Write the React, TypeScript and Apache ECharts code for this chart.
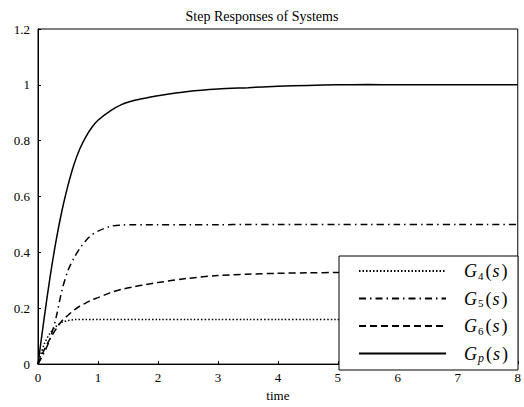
import React, { useEffect, useRef } from "react";
import * as echarts from "echarts";

const time = [0, 0.1, 0.2, 0.3, 0.4, 0.5, 0.6, 0.7, 0.8, 0.9, 1.0, 1.2, 1.4, 1.6, 1.8, 2.0, 2.5, 3, 3.5, 4, 4.5, 5, 5.5, 6, 6.5, 7, 7.5, 8];
const g4 = [0, 0.07, 0.11, 0.135, 0.15, 0.156, 0.159, 0.16, 0.16, 0.16, 0.16, 0.16, 0.16, 0.16, 0.16, 0.16, 0.16, 0.16, 0.16, 0.16, 0.16, 0.16, 0.16, 0.16, 0.16, 0.16, 0.16, 0.16];
const g5 = [0, 0.04, 0.09, 0.165, 0.265, 0.335, 0.38, 0.415, 0.443, 0.463, 0.476, 0.493, 0.498, 0.499, 0.499, 0.499, 0.499, 0.499, 0.5, 0.5, 0.5, 0.5, 0.5, 0.5, 0.5, 0.5, 0.5, 0.5];
const g6 = [0, 0.05, 0.09, 0.125, 0.155, 0.175, 0.193, 0.208, 0.219, 0.23, 0.238, 0.255, 0.268, 0.277, 0.285, 0.292, 0.307, 0.317, 0.322, 0.325, 0.327, 0.328, 0.329, 0.33, 0.33, 0.33, 0.33, 0.33];
const gp = [0, 0.16, 0.31, 0.44, 0.55, 0.64, 0.715, 0.772, 0.815, 0.848, 0.873, 0.906, 0.93, 0.944, 0.953, 0.961, 0.976, 0.985, 0.99, 0.995, 0.998, 1.0, 1.001, 1.0, 1.0, 1.0, 1.0, 1.0];

const names = ["G4(s)", "G5(s)", "G6(s)", "Gp(s)"];
const subs = ["4", "5", "6", "p"];
const seriesValues = [g4, g5, g6, gp];
const dashes: any[] = [[1.5, 2], [7, 4, 1.5, 4], [7, 4], "solid"];

const FONT = "'Liberation Serif', 'DejaVu Serif', serif";

export default function App() {
  const ref = useRef<HTMLDivElement>(null);
  useEffect(() => {
    if (!ref.current) return;
    const chart = echarts.init(ref.current, undefined, { renderer: "svg" });
    const series = seriesValues.map((vals, i) => ({
      name: names[i],
      type: "line",
      data: time.map((t, k) => [t, vals[k]]),
      showSymbol: false,
      symbol: "none",
      smooth: 0.3,
      lineStyle: { color: "#000", width: 1.5, type: dashes[i] },
      itemStyle: { color: "#000" },
      z: 2,
    }));
    chart.setOption({
      animation: false,
      backgroundColor: "#fff",
      title: {
        text: "Step Responses of Systems",
        left: "center",
        top: 4,
        textStyle: { fontFamily: FONT, fontSize: 14, fontWeight: "normal", color: "#000" },
      },
      grid: { left: 38, right: 6, top: 29, bottom: 37, show: true, borderColor: "#000", borderWidth: 1 },
      xAxis: {
        type: "value",
        min: 0,
        max: 8,
        interval: 1,
        name: "time",
        nameLocation: "middle",
        nameGap: 23,
        nameTextStyle: { fontFamily: FONT, fontSize: 13, color: "#000" },
        axisLine: { show: true, lineStyle: { color: "#000" } },
        axisTick: { show: true, inside: true, length: 3, lineStyle: { color: "#000" } },
        axisLabel: { fontFamily: FONT, fontSize: 13, color: "#000", margin: 7 },
        splitLine: { show: false },
      },
      yAxis: {
        type: "value",
        min: 0,
        max: 1.2,
        interval: 0.2,
        axisLine: { show: true, lineStyle: { color: "#000" } },
        axisTick: { show: true, inside: true, length: 3, lineStyle: { color: "#000" } },
        axisLabel: { fontFamily: FONT, fontSize: 13, color: "#000", margin: 8 },
        splitLine: { show: false },
      },
      graphic: [
        {
          type: "rect",
          z: 3,
          shape: { x: 339, y: 256, width: 179, height: 114 },
          style: { fill: "#fff", stroke: "#000", lineWidth: 1 },
        },
      ],
      legend: {
        data: names,
        orient: "vertical",
        left: 339,
        top: 256,
        padding: [6, 0, 0, 19],
        itemWidth: 87,
        itemHeight: 20,
        itemGap: 8.5,
        z: 4,
        itemStyle: { opacity: 0 },
        formatter: (name: string) => {
          const idx = names.indexOf(name);
          const s = subs[idx];
          const subTag = /[0-9]/.test(s) ? "sub" : "subi";
          return `{sp|}{i|G}{${subTag}|${s}}{n|(}{i|s}{n|)}`;
        },
        textStyle: {
          color: "#000",
          rich: {
            sp: { width: 13, lineHeight: 20 },
            i: { fontFamily: FONT, fontStyle: "italic", fontSize: 18, color: "#000", lineHeight: 20, padding: [0, 1, 0, 0] },
            n: { fontFamily: FONT, fontSize: 18, color: "#000", lineHeight: 20, padding: [0, 1, 0, 1] },
            sub: { fontFamily: FONT, fontSize: 11, color: "#000", lineHeight: 20, verticalAlign: "bottom", padding: [4, 1, 0, 0] },
            subi: { fontFamily: FONT, fontStyle: "italic", fontSize: 12, color: "#000", lineHeight: 20, verticalAlign: "bottom", padding: [4, 1, 0, 0] },
          },
        },
      },
      series,
    });
    return () => chart.dispose();
  }, []);
  return (
    <div
      ref={ref}
      style={{ position: "fixed", left: 0, top: 0, width: 524, height: 407 }}
    />
  );
}
